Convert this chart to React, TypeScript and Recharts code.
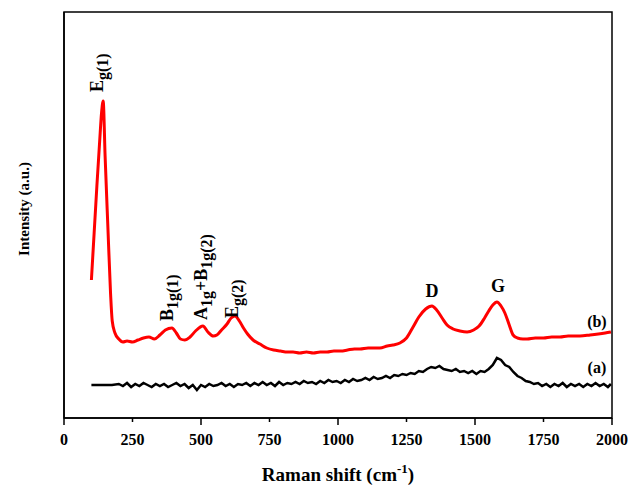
import React from 'react'
import {
  LineChart, Line, XAxis, YAxis, ReferenceArea, ReferenceDot, Label,
} from 'recharts'

// Raman shift (cm-1) / intensity (a.u.)
const redX = [
  100, 110, 120, 130, 137, 143, 150, 160, 170, 176, 186, 200, 215, 230, 250, 270, 290, 310,
  330, 350, 370, 394, 410, 425, 441, 460, 480, 507, 525, 545, 558, 575, 595, 610, 624, 640,
  655, 670, 690, 715, 740, 765, 790, 815, 836, 860, 885, 910, 935, 960, 985, 1010, 1035,
  1060, 1080, 1110, 1130, 1153, 1180, 1200, 1226, 1250, 1274, 1295, 1320, 1343, 1360, 1380,
  1398, 1420, 1445, 1471, 1495, 1515, 1535, 1550, 1565, 1580, 1595, 1609, 1625, 1639, 1655,
  1675, 1690, 1720, 1750, 1780, 1810, 1840, 1883, 1920, 1950, 1975, 1996,
]
const redY = [
  138, 185, 232, 276, 305, 317, 262, 192, 124, 97, 85, 79, 76, 77, 76, 78, 80, 81,
  79, 83, 88, 90, 85, 79, 78, 81, 87, 92, 86, 82, 83, 88, 94, 100, 102, 97,
  90, 84, 78, 74, 70, 68, 67, 66, 66, 65, 66, 65, 66, 66, 67, 67, 68,
  69, 69, 70, 70, 70, 72, 73, 75, 80, 91, 101, 109, 112, 108, 100,
  93, 89, 87, 86, 88, 92, 100, 107, 113, 116, 112, 105, 93, 83, 80,
  79, 79, 80, 80, 81, 81, 82, 82, 83, 84, 85, 86,
]

const blackX = [
  100, 125, 150, 175, 200, 215, 230, 245, 260, 275, 290, 305, 320, 335, 350, 365, 380, 395,
  410, 425, 440, 455, 470, 485, 500, 515, 530, 545, 560, 575, 590, 605, 620, 635, 650, 665,
  680, 695, 710, 725, 740, 755, 770, 785, 800, 815, 830, 845, 860, 875, 890, 905, 920, 935,
  950, 965, 980, 995, 1010, 1025, 1040, 1055, 1070, 1085, 1100, 1115, 1130, 1145, 1160, 1175,
  1190, 1205, 1220, 1235, 1250, 1265, 1280, 1295, 1310, 1325, 1340, 1355, 1370, 1385, 1400,
  1415, 1430, 1445, 1460, 1475, 1490, 1505, 1520, 1535, 1550, 1565, 1580, 1595, 1610, 1625,
  1640, 1655, 1670, 1685, 1700, 1715, 1730, 1745, 1760, 1775, 1790, 1805, 1820, 1835, 1850,
  1865, 1880, 1895, 1910, 1925, 1940, 1955, 1970, 1985, 1996,
]
const blackY = [
  33, 33, 33, 33, 34, 32, 35, 31, 34, 32, 35, 33, 31, 34, 32, 34, 31, 33,
  35, 32, 34, 30, 33, 28, 33, 31, 34, 32, 33, 35, 32, 34, 31, 34, 33, 35,
  32, 35, 33, 36, 33, 35, 32, 36, 33, 35, 34, 36, 34, 37, 35, 36, 34, 37,
  35, 38, 36, 37, 35, 38, 36, 39, 37, 38, 40, 38, 41, 39, 40, 42,
  40, 43, 42, 44, 43, 45, 44, 47, 46, 49, 51, 50, 52, 49, 48,
  47, 49, 46, 47, 45, 47, 44, 47, 46, 49, 53, 60, 58, 53, 51,
  46, 42, 40, 37, 36, 34, 35, 32, 34, 31, 34, 32, 35, 31, 34,
  32, 34, 31, 34, 32, 35, 32, 34, 31, 34,
]

const xTicks = [0, 250, 500, 750, 1000, 1250, 1500, 1750, 2000]

type Part = { t: string; sub?: boolean }
interface Peak { x: number; y: number; parts: Part[]; vertical: boolean }

const peaks: Peak[] = [
  { x: 142, y: 326, vertical: true, parts: [{ t: 'E' }, { t: 'g(1)', sub: true }] },
  { x: 398, y: 97, vertical: true, parts: [{ t: 'B' }, { t: '1g(1)', sub: true }] },
  {
    x: 522, y: 98, vertical: true,
    parts: [{ t: 'A' }, { t: '1g', sub: true }, { t: '+B' }, { t: '1g(2)', sub: true }],
  },
  { x: 635, y: 100, vertical: true, parts: [{ t: 'E' }, { t: 'g(2)', sub: true }] },
  { x: 1343, y: 121, vertical: false, parts: [{ t: 'D' }] },
  { x: 1584, y: 126, vertical: false, parts: [{ t: 'G' }] },
  { x: 1945, y: 91, vertical: false, parts: [{ t: '(b)' }] },
  { x: 1945, y: 45, vertical: false, parts: [{ t: '(a)' }] },
]

const redData = redX.map((x, i) => ({ x, y: redY[i] }))
const blackData = blackX.map((x, i) => ({ x, y: blackY[i] }))

const FONT = "'Liberation Serif', 'Times New Roman', serif"

function XTick(props: any) {
  const { x, y, payload } = props
  const major = payload.value % 500 === 0
  return (
    <g>
      <line x1={x} x2={x} y1={y} y2={y + (major ? 7 : 4)} stroke="#000" strokeWidth={1.5} />
      <text x={x} y={y + 27} textAnchor="middle" fontFamily={FONT} fontWeight="bold" fontSize={16} fill="#000">
        {payload.value}
      </text>
    </g>
  )
}

function peakLabel(peak: Peak) {
  return (p: any) => {
    const vb = p.viewBox || {}
    const cx = vb.x + (vb.width || 0) / 2
    const cy = vb.y + (vb.height || 0) / 2
    if (!peak.vertical) {
      const big = peak.parts[0].t.length === 1
      return (
        <text x={cx} y={cy} textAnchor="middle" fontFamily={FONT} fontWeight="bold"
          fontSize={big ? 18 : 16} fill="#000">
          {peak.parts[0].t}
        </text>
      )
    }
    let shift = 0
    const spans = peak.parts.map((pt, i) => {
      const target = pt.sub ? 5 : 0
      const dy = target - shift
      shift = target
      return <tspan key={i} dy={dy} fontSize={pt.sub ? 16 : 18}>{pt.t}</tspan>
    })
    return (
      <g transform={`translate(${cx},${cy}) rotate(-90)`}>
        <text x={0} y={0} textAnchor="start" fontFamily={FONT} fontWeight="bold" fontSize={18} fill="#000">
          {spans}
        </text>
      </g>
    )
  }
}

export default function App() {
  return (
    <div style={{ position: 'absolute', left: 0, top: 0, background: '#fff' }}>
      <LineChart width={630} height={486} data={redData}
        margin={{ top: 12, right: 18, left: 24, bottom: 8 }}>
        <XAxis type="number" dataKey="x" domain={[0, 2000]} ticks={xTicks} interval={0}
          height={60} tickSize={0} tickMargin={0} tickLine={false} tick={<XTick />}
          axisLine={{ stroke: '#000', strokeWidth: 1.5 }} allowDataOverflow>
          <Label content={(p: any) => {
            const vb = p.viewBox
            const cx = vb.x + vb.width / 2
            return (
              <text x={cx} y={vb.y + 63} textAnchor="middle" fontFamily={FONT} fontWeight="bold" fontSize={19} fill="#000">
                Raman shift (cm<tspan dy={-8} fontSize={13}>-1</tspan><tspan dy={8}>)</tspan>
              </text>
            )
          }} />
        </XAxis>
        <YAxis type="number" domain={[0, 406]} width={40} tick={false} tickLine={false}
          axisLine={{ stroke: '#000', strokeWidth: 1.5 }} allowDataOverflow>
          <Label content={() => (
            <text x={29} y={209} transform="rotate(-90 29 209)" textAnchor="middle"
              fontFamily={FONT} fontWeight="bold" fontSize={15} fill="#000">
              Intensity (a.u.)
            </text>
          )} />
        </YAxis>
        <ReferenceArea x1={0} x2={2000} y1={0} y2={406} fill="none" stroke="#000"
          strokeWidth={1.5} ifOverflow="visible" />
        <Line data={blackData} dataKey="y" type="linear" stroke="#000" strokeWidth={2.5}
          dot={false} isAnimationActive={false} />
        <Line data={redData} dataKey="y" type="monotone" stroke="#ff0000" strokeWidth={3}
          dot={false} isAnimationActive={false} />
        {peaks.map((pk, i) => (
          <ReferenceDot key={i} x={pk.x} y={pk.y} r={0} fill="none" stroke="none"
            ifOverflow="visible" label={{ content: peakLabel(pk) }} />
        ))}
      </LineChart>
    </div>
  )
}
